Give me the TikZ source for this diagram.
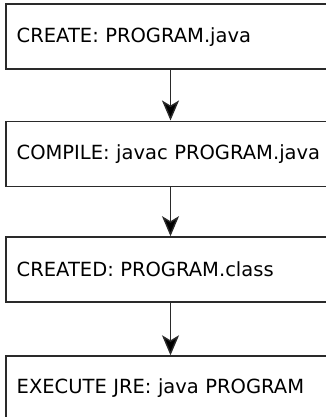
\documentclass[tikz,border=0pt]{standalone}
\usepackage{fontspec}
\setmainfont{DejaVu Sans}
\usetikzlibrary{arrows.meta}
\definecolor{linegray}{HTML}{2A2A2A}
\begin{document}
\begin{tikzpicture}[x=1pt,y=-1pt,
  stepbox/.style={draw=linegray, line width=1.4pt, fill=white,
    text width=307.6pt, inner xsep=10.7pt, inner ysep=0pt, align=left,
    minimum height=65pt, font=\fontsize{19.5}{23}\selectfont},
  flow/.style={draw=linegray, line width=1.4pt,
    -{Stealth[length=20pt, width=17pt, inset=5pt, fill=black]}}]
\useasboundingbox (0,0) rectangle (326,417);
\clip (0,0) rectangle (326,417);
\node[stepbox] (b1) at (170.5,36.7) {CREATE: PROGRAM.java};
\node[stepbox] (b2) at (170.5,153.7) {COMPILE: javac PROGRAM.java};
\node[stepbox] (b3) at (170.5,269.4) {CREATED: PROGRAM.class};
\node[stepbox] (b4) at (170.5,388.5) {EXECUTE JRE: java PROGRAM};
\draw[flow] (b1) -- (b2);
\draw[flow] (b2) -- (b3);
\draw[flow] (b3) -- (b4);
\end{tikzpicture}
\end{document}
